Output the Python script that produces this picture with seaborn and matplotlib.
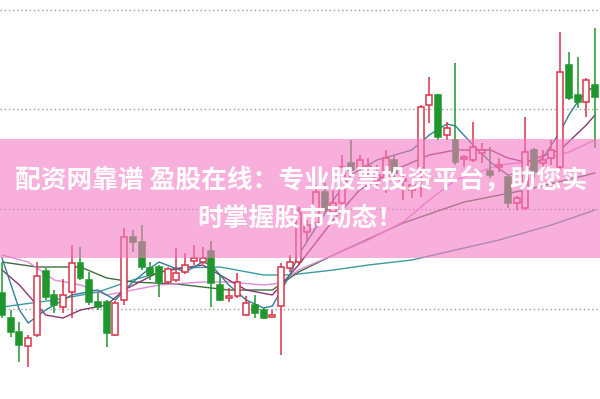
import numpy as np
import pandas as pd
import matplotlib
matplotlib.use("Agg")
import matplotlib.pyplot as plt
import seaborn as sns

# ---------------- data ----------------
opens = [10.16, 9.91, 9.77, 9.63, 9.74, 10.38, 10.14, 10.02, 10.17, 10.46,
         10.29, 10.07, 10.07, 9.74, 10.09, 10.72, 10.67, 10.41, 10.42, 10.27,
         10.29, 10.37, 10.48, 10.47, 10.58, 10.24, 10.11, 10.13, 9.94, 10.04,
         9.99, 9.92, 10.03, 10.41, 10.47, 10.77, 10.86, 11.17, 10.97, 11.06,
         11.46, 11.41, 11.40, 11.29, 11.29, 11.49, 11.28, 11.19, 11.41, 12.04,
         12.14, 11.74, 11.69, 11.50, 11.49, 11.56, 11.38, 11.42, 11.32, 11.06,
         11.01, 11.59, 11.46, 11.51, 11.42, 12.44, 12.14, 12.07, 12.24]
highs = [10.46, 9.99, 9.87, 9.74, 10.47, 10.41, 10.19, 10.30, 10.64, 10.62,
         10.37, 10.17, 10.09, 10.08, 10.81, 10.79, 10.84, 10.47, 10.44, 10.42,
         10.61, 10.56, 10.64, 10.62, 10.68, 10.34, 10.21, 10.36, 10.13, 10.14,
         10.01, 9.99, 10.46, 10.54, 11.02, 10.89, 11.24, 11.26, 11.19, 11.54,
         11.69, 11.54, 11.51, 11.44, 11.59, 11.54, 11.36, 11.31, 12.04, 12.32,
         12.15, 11.87, 12.46, 11.54, 11.87, 11.66, 11.62, 11.51, 11.34, 11.13,
         11.92, 11.61, 11.59, 11.69, 12.77, 12.57, 12.52, 12.31, 12.81]
lows = [9.91, 9.72, 9.47, 9.42, 9.72, 10.09, 9.96, 9.96, 9.91, 10.29,
        10.04, 9.99, 9.62, 9.73, 10.04, 10.57, 10.39, 10.29, 10.12, 10.25,
        10.27, 10.35, 10.44, 10.45, 10.02, 10.08, 10.07, 10.11, 9.93, 9.91,
        9.90, 9.91, 9.54, 10.37, 10.44, 10.67, 10.83, 10.97, 10.95, 11.04,
        11.29, 11.31, 11.34, 11.19, 11.16, 11.29, 11.09, 11.11, 11.12, 11.86,
        11.69, 11.69, 11.44, 11.42, 11.47, 11.46, 11.31, 11.37, 11.01, 10.99,
        10.99, 11.31, 11.39, 11.44, 11.39, 12.09, 12.01, 11.92, 11.61]
closes = [9.94, 9.77, 9.64, 9.71, 10.33, 10.12, 10.04, 10.14, 10.46, 10.31,
          10.07, 10.02, 9.76, 10.06, 10.72, 10.67, 10.42, 10.34, 10.27, 10.40,
          10.36, 10.44, 10.51, 10.51, 10.26, 10.09, 10.13, 10.27, 10.06, 9.96,
          9.91, 9.94, 10.42, 10.47, 10.96, 10.84, 11.17, 10.99, 11.06, 11.42,
          11.39, 11.49, 11.43, 11.34, 11.51, 11.36, 11.30, 11.24, 12.02, 12.14,
          11.72, 11.81, 11.47, 11.52, 11.62, 11.59, 11.34, 11.44, 11.06, 11.11,
          11.57, 11.37, 11.49, 11.59, 12.37, 12.11, 12.07, 12.29, 12.12]

# moving-average lines (candle index, price)
ma5_idx = [0, 2, 3, 5, 8, 11, 13, 15, 17, 18, 21, 23, 24, 26, 28, 30, 31, 33, 34,
           38, 40, 43, 47, 49, 51, 52, 54, 56, 58, 60, 62, 64, 65, 66, 67, 68]
ma5_val = [10.51, 9.99, 9.86, 9.99, 10.14, 10.19, 10.09, 10.27, 10.41, 10.47,
           10.37, 10.47, 10.44, 10.24, 10.09, 10.01, 10.03, 10.34, 10.54,
           11.09, 11.34, 11.49, 11.59, 11.74, 11.85, 11.83, 11.64, 11.47,
           11.34, 11.37, 11.51, 11.77, 11.94, 12.07, 12.17, 12.23]
ma10_idx = [0, 2, 5, 7, 9, 12, 14, 18, 23, 26, 28, 31, 34, 38, 41, 45, 49, 52,
            56, 58, 60, 64, 67, 68]
ma10_val = [10.39, 10.24, 9.94, 9.91, 9.99, 10.04, 10.19, 10.37, 10.44, 10.29,
            10.19, 10.14, 10.44, 10.89, 11.19, 11.39, 11.54, 11.59, 11.59,
            11.51, 11.47, 11.59, 11.84, 11.94]
ma20_idx = [0, 3, 6, 9, 12, 15, 18, 23, 26, 30, 32, 34, 38, 42, 46, 49, 52, 57,
            62, 65, 68]
ma20_val = [10.54, 10.47, 10.29, 10.24, 10.14, 10.19, 10.24, 10.27, 10.27,
            10.24, 10.26, 10.39, 10.54, 10.69, 10.87, 11.09, 11.29, 11.44,
            11.49, 11.57, 11.69]
ma30_idx = [0, 4, 9, 12, 15, 20, 26, 31, 34, 38, 46, 53, 60, 68]
ma30_val = [10.47, 10.42, 10.42, 10.31, 10.27, 10.25, 10.19, 10.19, 10.37,
            10.54, 10.86, 11.07, 11.19, 11.36]
ma60_idx = [0, 6, 11, 15, 20, 25, 30, 33, 38, 42, 47, 52, 57, 63, 68]
ma60_val = [10.02, 10.09, 10.17, 10.29, 10.41, 10.42, 10.34, 10.34, 10.39,
            10.44, 10.49, 10.59, 10.69, 10.84, 10.99]

banner_line1 = "配资网靠谱 盈股在线：专业股票投资平台，助您实"
banner_line2 = "时掌握股市动态！"

# ---------------- styling ----------------
sns.set_theme(style="white")
plt.rcParams["font.family"] = ["Noto Sans CJK SC", "DejaVu Sans"]

UP = "#d8344a"
DOWN = "#1f962e"

fig = plt.figure(figsize=(6.0, 3.99), dpi=100)
ax = fig.add_axes([0, 0, 1, 1])
ax.set_facecolor("white")

n = len(opens)
idx = np.arange(n)
o = np.array(opens); h = np.array(highs); l = np.array(lows); c = np.array(closes)

# grid lines
for g in [10.0, 11.0, 12.0, 12.99]:
    ax.axhline(g, color="#9a9a9a", lw=1.0, ls=(0, (1, 2)), zorder=1)

# moving averages
ma_specs = [
    (ma60_idx, ma60_val, "#3b9c9e"),
    (ma30_idx, ma30_val, "#3f6e3c"),
    (ma20_idx, ma20_val, "#e08ad8"),
    (ma10_idx, ma10_val, "#8a3570"),
    (ma5_idx, ma5_val, "#2f7f96"),
]
for xi, yv, col in ma_specs:
    df = pd.DataFrame({"i": xi, "v": yv})
    sns.lineplot(data=df, x="i", y="v", ax=ax, color=col, lw=1.0,
                 sort=False, zorder=3, legend=False)

# candles
up = c >= o
width = 0.68
for i in range(n):
    col = UP if up[i] else DOWN
    ax.vlines(idx[i], l[i], h[i], color=col, lw=1.1, zorder=4)
    bottom = min(o[i], c[i])
    height = max(abs(c[i] - o[i]), 0.015)
    if up[i]:
        ax.bar(idx[i], height, width, bottom=bottom, facecolor="white",
               edgecolor=col, lw=1.1, zorder=5)
    else:
        ax.bar(idx[i], height, width, bottom=bottom, facecolor=col,
               edgecolor=col, lw=1.1, zorder=5)

ax.set_xlim(-0.23, 68.57)
ax.set_ylim(9.10, 13.09)
ax.set_xticks([]); ax.set_yticks([])
ax.set_xlabel(""); ax.set_ylabel("")
for s in ax.spines.values():
    s.set_visible(False)

# pink banner
ax.axhspan(13.09 - 2.58, 13.09 - 1.39, color=(245/255, 123/255, 195/255),
           alpha=0.6, lw=0, zorder=8)
fig.text(0.502, 1 - 181/399, banner_line1, ha="center", va="center",
         color="white", fontsize=18.5, fontweight="bold", zorder=10)
fig.text(0.500, 1 - 218/399, banner_line2, ha="center", va="center",
         color="white", fontsize=18.5, fontweight="bold", zorder=10)

fig.savefig("out.png", dpi=100)
